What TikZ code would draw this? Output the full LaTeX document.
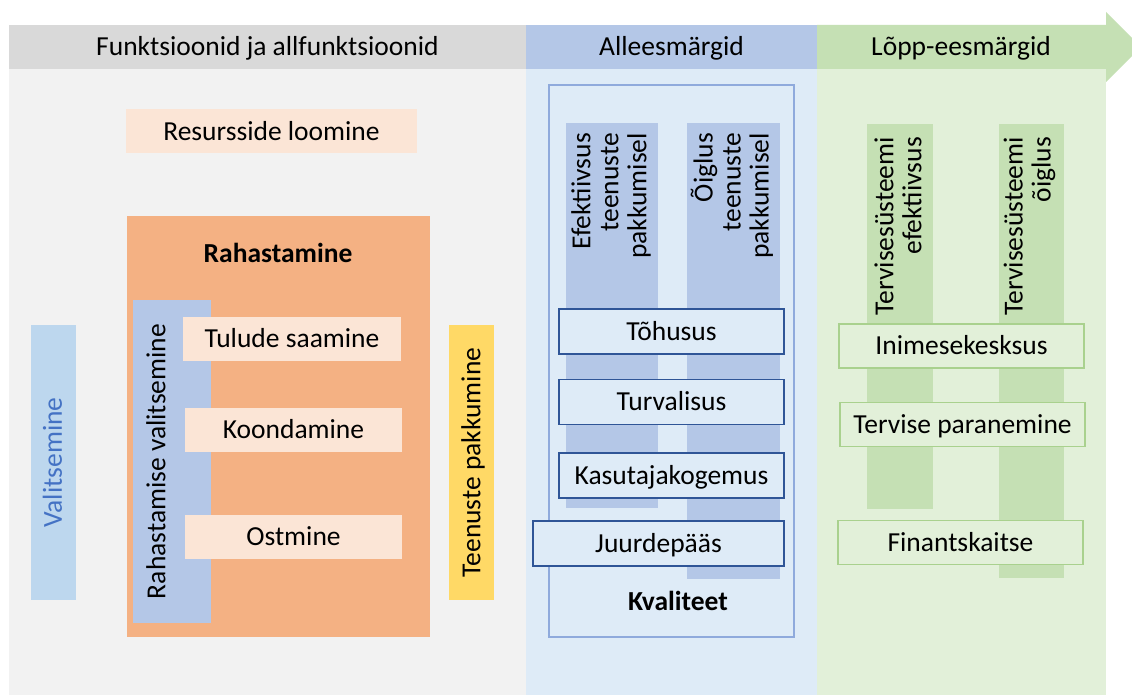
\documentclass[tikz,border=0pt]{standalone}
\usepackage{fontspec}
\setmainfont{Carlito}
\definecolor{hdgray}{HTML}{D9D9D9}
\definecolor{bdgray}{HTML}{F2F2F2}
\definecolor{hdblue}{HTML}{B4C7E7}
\definecolor{bdblue}{HTML}{DEEBF7}
\definecolor{lineblue}{HTML}{8FAADC}
\definecolor{darkblue}{HTML}{2F5597}
\definecolor{skyblue}{HTML}{BDD7EE}
\definecolor{textblue}{HTML}{4472C4}
\definecolor{hdgreen}{HTML}{C5E0B4}
\definecolor{bdgreen}{HTML}{E2F0D9}
\definecolor{linegreen}{HTML}{A9D18E}
\definecolor{orange}{HTML}{F4B183}
\definecolor{peach}{HTML}{FBE5D6}
\definecolor{yellow}{HTML}{FFD966}

\begin{document}
\begin{tikzpicture}[x=1pt,y=-1pt,
    every node/.style={font=\fontsize{27.5}{28}\selectfont, inner sep=0pt},
    capline/.style={text height=17.7pt, text depth=0pt},
    peachbox/.style={capline, fill=peach, minimum height=44pt},
    qualbox/.style={capline, draw=darkblue, line width=1.2pt, fill=bdblue,
      minimum width=225pt, minimum height=45pt},
    goalbox/.style={capline, draw=linegreen, line width=1.4pt, fill=bdgreen,
      minimum width=245pt, minimum height=44pt},
    sidebar/.style={capline, rotate=90, minimum width=275pt, minimum height=45pt},
    bartext/.style={rotate=90, anchor=east, align=right}]
        \useasboundingbox (0,0) rectangle (1132,695);
        \clip (0,0) rectangle (1132,695);
        \fill[white] (0,0) rectangle (1132,695);
        % header band with arrow head
        \fill[hdgray] (9,25) rectangle (526,69);
        \fill[hdblue] (526,25) rectangle (817,69);
        \fill[hdgreen] (817,25) -- (1106,25) -- (1106,12) -- (1141,47)
            -- (1106,82) -- (1106,69) -- (817,69) -- cycle;
        \node[capline] (funk) at (267.5,47) {Funktsioonid ja allfunktsioonid};
        \node[capline] (allee) at (671.5,47) {Alleesmärgid};
        \node[capline] (lopp) at (961,47) {Lõpp-eesmärgid};
        % column bodies
        \fill[bdgray] (9,69) rectangle (526,695);
        \fill[bdblue] (526,69) rectangle (817,695);
        \fill[bdgreen] (817,69) rectangle (1106,695);

        % functions
        \node[peachbox, minimum width=291pt] (ressurss) at (271.5,131.5) {Resursside loomine};
        \fill[orange] (127,216) rectangle (430,637);
        \node[capline, font=\fontsize{27.5}{28}\selectfont\bfseries] (rahast) at (278,254) {Rahastamine};
        \fill[hdblue] (133,300) rectangle (211,623);
        \node[capline, rotate=90] (rvalits) at (156.5,461.5) {Rahastamise valitsemine};
        \node[peachbox, minimum width=218pt] (tulud) at (292,339) {Tulude saamine};
        \node[peachbox, minimum width=217pt] (koond) at (293.5,430) {Koondamine};
        \node[peachbox, minimum width=217pt] (ostm) at (293.5,537) {Ostmine};
        \node[sidebar, fill=skyblue, text=textblue] (valits) at (53,462.5) {Valitsemine};
        \node[sidebar, fill=yellow] (teenus) at (471.5,462.5) {Teenuste pakkumine};

        % intermediate goals
        \draw[lineblue, line width=1.2pt] (549,85) rectangle (794,637);
        \fill[hdblue] (566,123) rectangle (658,508);
        \fill[hdblue] (687,123) rectangle (780,579);
        \node[bartext] (efekt) at (611,133) {Efektiivsus\\teenuste\\pakkumisel};
        \node[bartext] (oiglus) at (732,133) {Õiglus\\teenuste\\pakkumisel};
        \node[qualbox] (tohus) at (671.5,331.5) {Tõhusus};
        \node[qualbox] (turval) at (671.5,402) {Turvalisus};
        \node[qualbox] (kasut) at (671.5,475.5) {Kasutajakogemus};
        \node[qualbox, minimum width=251pt] (juurde) at (658.5,543.5) {Juurdepääs};
        \node[capline, font=\fontsize{27.5}{28}\selectfont\bfseries] (kvalit) at (678,601.5) {Kvaliteet};

        % final goals
        \fill[hdgreen] (867,124) rectangle (933,509);
        \fill[hdgreen] (999,124) rectangle (1064,578);
        \node[bartext] (tefekt) at (898,137) {Tervisesüsteemi\\efektiivsus};
        \node[bartext] (toiglus) at (1029.5,137) {Tervisesüsteemi\\õiglus};
        \node[goalbox] (inim) at (961.5,346) {Inimesekesksus};
        \node[goalbox] (tparan) at (962.5,424.5) {Tervise paranemine};
        \node[goalbox] (finants) at (960.5,542.5) {Finantskaitse};
\end{tikzpicture}
\end{document}
